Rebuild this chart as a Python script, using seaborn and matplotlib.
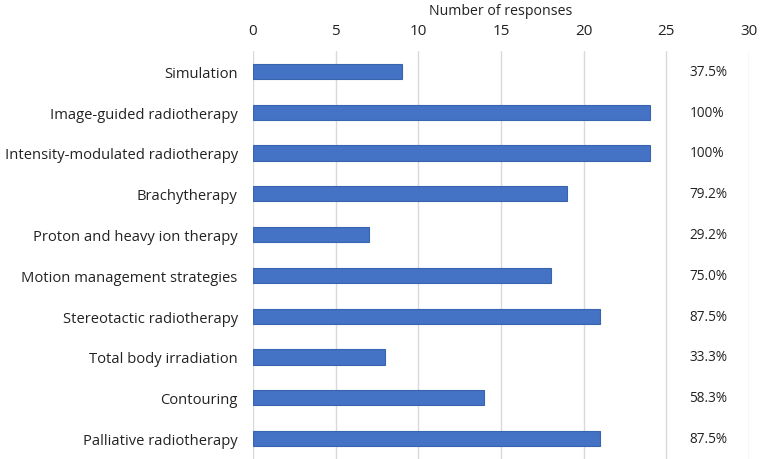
import matplotlib
matplotlib.use("Agg")
import matplotlib.pyplot as plt
import seaborn as sns
import pandas as pd

categories = ["Simulation", "Image-guided radiotherapy", "Intensity-modulated radiotherapy",
              "Brachytherapy", "Proton and heavy ion therapy", "Motion management strategies",
              "Stereotactic radiotherapy", "Total body irradiation", "Contouring",
              "Palliative radiotherapy"]
responses = [9, 24, 24, 19, 7, 18, 21, 8, 14, 21]
percent_labels = ["37.5%", "100%", "100%", "79.2%", "29.2%", "75.0%", "87.5%", "33.3%", "58.3%", "87.5%"]
x_ticks = [0, 5, 10, 15, 20, 25, 30]

sns.set_theme(style="white")
plt.rcParams['font.family'] = ['Open Sans', 'DejaVu Sans']

df = pd.DataFrame({"category": categories, "responses": responses})

fig = plt.figure(figsize=(7.62, 4.60), dpi=100)
ax = fig.add_axes([0.332, 0.0, 0.651, 0.887])
sns.barplot(data=df, y="category", x="responses", orient="h", color="#4472C4",
            width=0.37, edgecolor="#3A64B0", linewidth=0.8, ax=ax, saturation=1)
ax.set_xlim(0, 30)
ax.set_ylim(9.5, -0.5)
ax.set_xticks(x_ticks)
ax.xaxis.tick_top()
ax.xaxis.set_label_position("top")
ax.set_xlabel("Number of responses", fontsize=10.2, color="#222222", labelpad=7)
ax.set_ylabel("")
ax.tick_params(axis="x", labelsize=11, colors="#222222", length=0, pad=9)
ax.tick_params(axis="y", labelsize=10.6, colors="#222222", length=0, pad=11)
ax.grid(axis="x", color="#D9D9D9", linewidth=1)
ax.set_axisbelow(True)
for s in ax.spines.values():
    s.set_visible(False)
for i, lab in enumerate(percent_labels):
    ax.text(26.4, i, lab, va="center", ha="left", fontsize=9.8, color="#222222")

fig.savefig("out.png", dpi=100)
